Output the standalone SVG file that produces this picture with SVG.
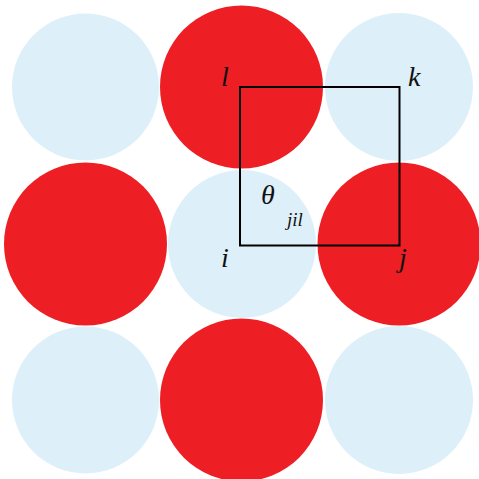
<svg xmlns="http://www.w3.org/2000/svg" width="479" height="479" viewBox="0 0 479 479">
<style>
.red{fill:#ED1F24}
.blue{fill:#DDEFF9}
.lbl{font-family:"Liberation Serif",serif;font-style:italic;font-size:28px;fill:#111}
.sub{font-family:"Liberation Serif",serif;font-style:italic;font-size:19px;fill:#111}
</style>
<rect width="479" height="479" fill="#fff"/>
<g id="atoms">
<circle id="a00" class="blue" cx="85.5" cy="87" r="73.5"/>
<circle id="a02" class="blue" cx="399" cy="87" r="74"/>
<circle id="a11" class="blue" cx="242" cy="244" r="74"/>
<circle id="a20" class="blue" cx="85.5" cy="400" r="73.5"/>
<circle id="a22" class="blue" cx="399" cy="400" r="74"/>
<circle id="a01" class="red" cx="241.5" cy="87" r="81.5"/>
<circle id="a10" class="red" cx="85.5" cy="244" r="81.5"/>
<circle id="a12" class="red" cx="399" cy="244" r="81.5"/>
<circle id="a21" class="red" cx="241.5" cy="400" r="81.5"/>
</g>
<g id="connectors">
<rect x="240" y="87" width="159.5" height="158.5" fill="none" stroke="#000" stroke-width="2"/>
</g>
<g id="labels">
<text class="lbl" x="221" y="86">l</text>
<text class="lbl" x="408" y="86">k</text>
<text class="lbl" x="221" y="267">i</text>
<text class="lbl" x="399" y="267">j</text>
<text class="lbl" x="261" y="204">θ</text>
<text class="sub" x="287" y="226">jil</text>
</g>
</svg>
